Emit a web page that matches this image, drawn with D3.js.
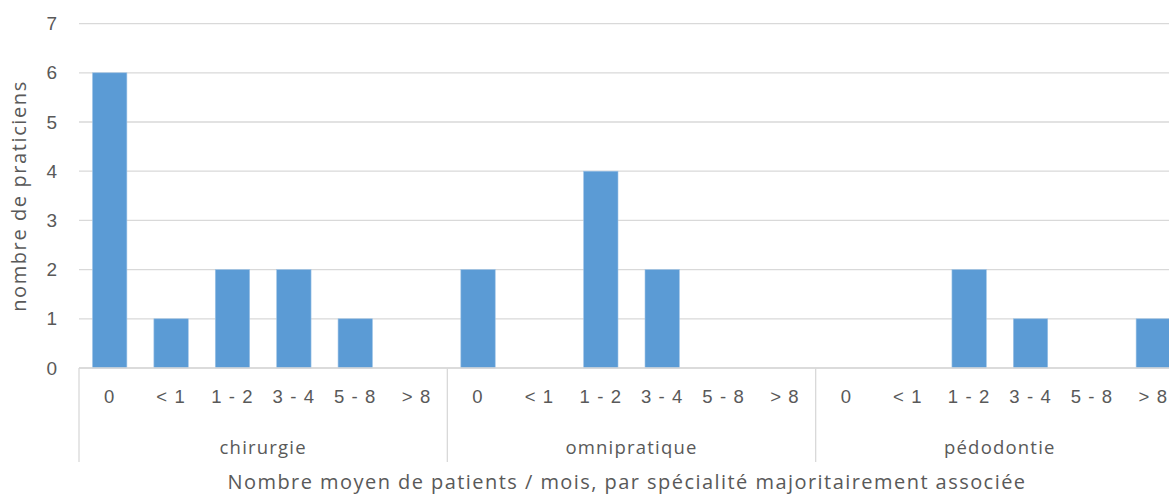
<!DOCTYPE html>
<html>
<head>
<meta charset="utf-8">
<script src="https://cdn.jsdelivr.net/npm/d3@7"></script>
<style>
  html, body { margin: 0; padding: 0; background: #fff; }
  svg { display: block; font-family: "Open Sans", "Noto Sans", sans-serif; }
</style>
</head>
<body>
<svg id="chart" width="1169" height="495"></svg>
<script>
// categories and values
var groups = ["chirurgie", "omnipratique", "pédodontie"];
var bins = ["0", "< 1", "1 - 2", "3 - 4", "5 - 8", "> 8"];
var chirurgie = [6, 1, 2, 2, 1, 0];
var omnipratique = [2, 0, 4, 2, 0, 0];
var pedodontie = [0, 0, 2, 1, 0, 1];
var yTicks = [0, 1, 2, 3, 4, 5, 6, 7];

var seriesByGroup = [chirurgie, omnipratique, pedodontie];

// one row per bar
var rows = [];
groups.forEach(function (g, gi) {
    bins.forEach(function (b, bi) {
        rows.push({ key: g + "|" + b, group: g, bin: b, value: seriesByGroup[gi][bi] });
    });
});

var svg = d3.select("#chart");
// careful: "top" is a read-only global in browsers
var plotLeft = 79, plotRight = 1184, plotTop = 23.6, plotBottom = 368;
var textColor = "#595959", gridColor = "#d9d9d9";

var x = d3.scaleBand()
    .domain(rows.map(function (d) { return d.key; }))
    .range([plotLeft, plotRight])
    .paddingInner(0.44)
    .paddingOuter(0.22);

var y = d3.scaleLinear().domain([0, 7]).range([plotBottom, plotTop]);
var step = x.step();

function groupStart(g) {
    return x(g + "|" + bins[0]) - x.paddingOuter() * step;
}

// gridlines
svg.append("g")
    .selectAll("line")
    .data(yTicks)
    .join("line")
    .attr("x1", plotLeft).attr("x2", plotRight)
    .attr("y1", function (d) { return y(d); })
    .attr("y2", function (d) { return y(d); })
    .attr("stroke", gridColor)
    .attr("stroke-width", 1.3);

// y tick labels
var yAxis = svg.append("g")
    .attr("transform", "translate(" + (plotLeft - 22) + ",0)")
    .call(d3.axisLeft(y).tickValues(yTicks).tickFormat(d3.format("d")).tickSize(0).tickPadding(0));
yAxis.select(".domain").remove();
yAxis.selectAll("text")
    .attr("fill", textColor)
    .style("font-size", "19px");

// bars
svg.append("g")
    .selectAll("rect")
    .data(rows.filter(function (d) { return d.value > 0; }))
    .join("rect")
    .attr("x", function (d) { return x(d.key); })
    .attr("width", x.bandwidth())
    .attr("y", function (d) { return y(d.value); })
    .attr("height", function (d) { return y(0) - y(d.value); })
    .attr("fill", "#5b9bd5")
    .attr("stroke", "#9dc3e6")
    .attr("stroke-width", 0.6);

// x axis: bin labels
var xAxis = svg.append("g")
    .attr("transform", "translate(0," + plotBottom + ")")
    .call(d3.axisBottom(x).tickSize(0).tickPadding(22)
        .tickFormat(function (k) { return k.split("|")[1]; }));
xAxis.select(".domain").remove();
xAxis.selectAll("text")
    .attr("fill", textColor)
    .style("font-size", "18.5px")
    .style("letter-spacing", "1.1px");

// horizontal axis line
svg.append("line")
    .attr("x1", plotLeft).attr("x2", plotRight)
    .attr("y1", plotBottom).attr("y2", plotBottom)
    .attr("stroke", gridColor).attr("stroke-width", 1.3);

// group separators
var groupEdges = groups.map(groupStart);
groupEdges.push(groupStart(groups[groups.length - 1]) + bins.length * step);
svg.append("g")
    .selectAll("line")
    .data(groupEdges)
    .join("line")
    .attr("x1", function (d) { return d; })
    .attr("x2", function (d) { return d; })
    .attr("y1", plotBottom)
    .attr("y2", 462)
    .attr("stroke", gridColor)
    .attr("stroke-width", 1.3);

// group labels
svg.append("g")
    .selectAll("text")
    .data(groups)
    .join("text")
    .attr("x", function (g) { return groupStart(g) + bins.length * step / 2; })
    .attr("y", 454)
    .attr("text-anchor", "middle")
    .attr("fill", textColor)
    .style("font-size", "18.5px")
    .style("letter-spacing", "1.2px")
    .text(function (g) { return g; });

// axis titles
svg.append("text")
    .attr("x", 627)
    .attr("y", 489)
    .attr("text-anchor", "middle")
    .attr("fill", textColor)
    .style("font-size", "20px")
    .style("letter-spacing", "1.45px")
    .text("Nombre moyen de patients / mois, par spécialité majoritairement associée");

svg.append("text")
    .attr("transform", "translate(26,196) rotate(-90)")
    .attr("text-anchor", "middle")
    .attr("fill", textColor)
    .style("font-size", "20px")
    .style("letter-spacing", "1.6px")
    .text("nombre de praticiens");
</script>
</body>
</html>
